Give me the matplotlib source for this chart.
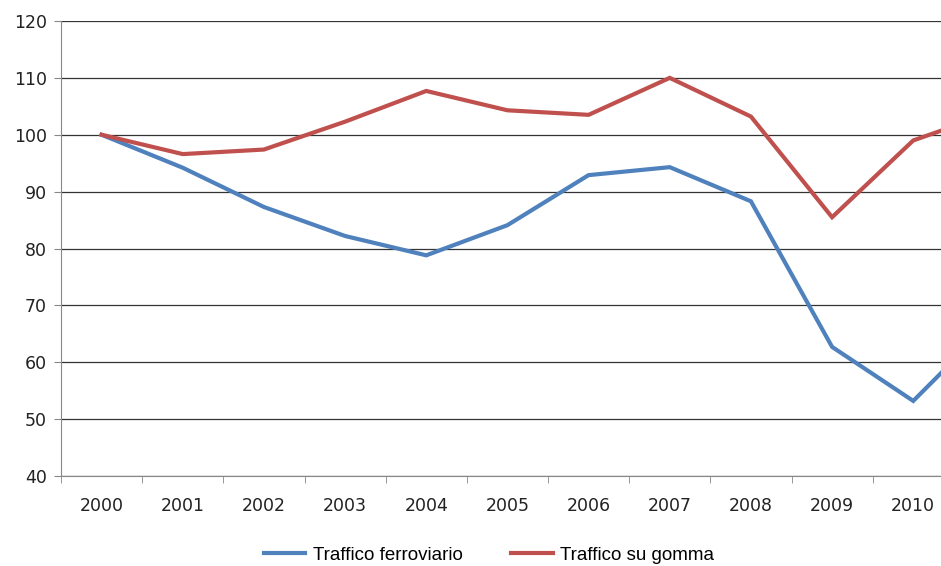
import matplotlib.pyplot as plt

anni = ['2000', '2001', '2002', '2003', '2004', '2005', '2006', '2007', '2008', '2009', '2010', '2011']
ferroviario = [100, 94.2, 87.3, 82.2, 78.8, 84.1, 92.9, 94.3, 88.3, 62.7, 53.2, 67.5]
gomma = [100, 96.6, 97.4, 102.3, 107.7, 104.3, 103.5, 110.0, 103.2, 85.5, 99.0, 104.0]

fig = plt.figure(figsize=(9.41, 5.66), dpi=100)
# l'asse originale continua oltre il bordo destro dell'immagine (tagliata)
ax = fig.add_axes([61 / 941, 1 - 476 / 566, 974 / 941, 455 / 566])

x = list(range(len(anni)))
ax.plot(x, ferroviario, color='#4F81BD', linewidth=3, label='Traffico ferroviario', solid_joinstyle='miter')
ax.plot(x, gomma, color='#C0504D', linewidth=3, label='Traffico su gomma', solid_joinstyle='miter')

ax.set_xlim(-0.5, len(anni) - 0.5)
ax.set_ylim(40, 120)
ax.set_yticks(range(40, 121, 10))
# l'ultima etichetta cade fuori dall'immagine
ax.set_xticks(x[:-1])
ax.set_xticklabels(anni[:-1])
ax.set_xticks([i - 0.5 for i in range(len(anni) + 1)], minor=True)
ax.tick_params(axis='x', which='major', length=0, pad=15)
ax.tick_params(axis='x', which='minor', length=5, color='#888888')
ax.tick_params(axis='y', length=5, color='#888888', pad=5)
for lab in ax.get_xticklabels() + ax.get_yticklabels():
    lab.set_fontsize(12.5)
    lab.set_color('#222222')

ax.grid(axis='y', color='#333333', linewidth=0.9)
ax.set_axisbelow(True)
for s in ['top', 'right']:
    ax.spines[s].set_visible(False)
ax.spines['left'].set_color('#888888')
ax.spines['bottom'].set_color('#888888')

h, l = ax.get_legend_handles_labels()
fig.legend(h, l, loc='center', bbox_to_anchor=(489 / 941, 1 - 555 / 566), ncol=2, frameon=False,
           prop={'family': 'Liberation Sans', 'size': 13.5}, handlelength=2.2, handletextpad=0.4,
           columnspacing=2.6)

fig.savefig('out.png', dpi=100)
